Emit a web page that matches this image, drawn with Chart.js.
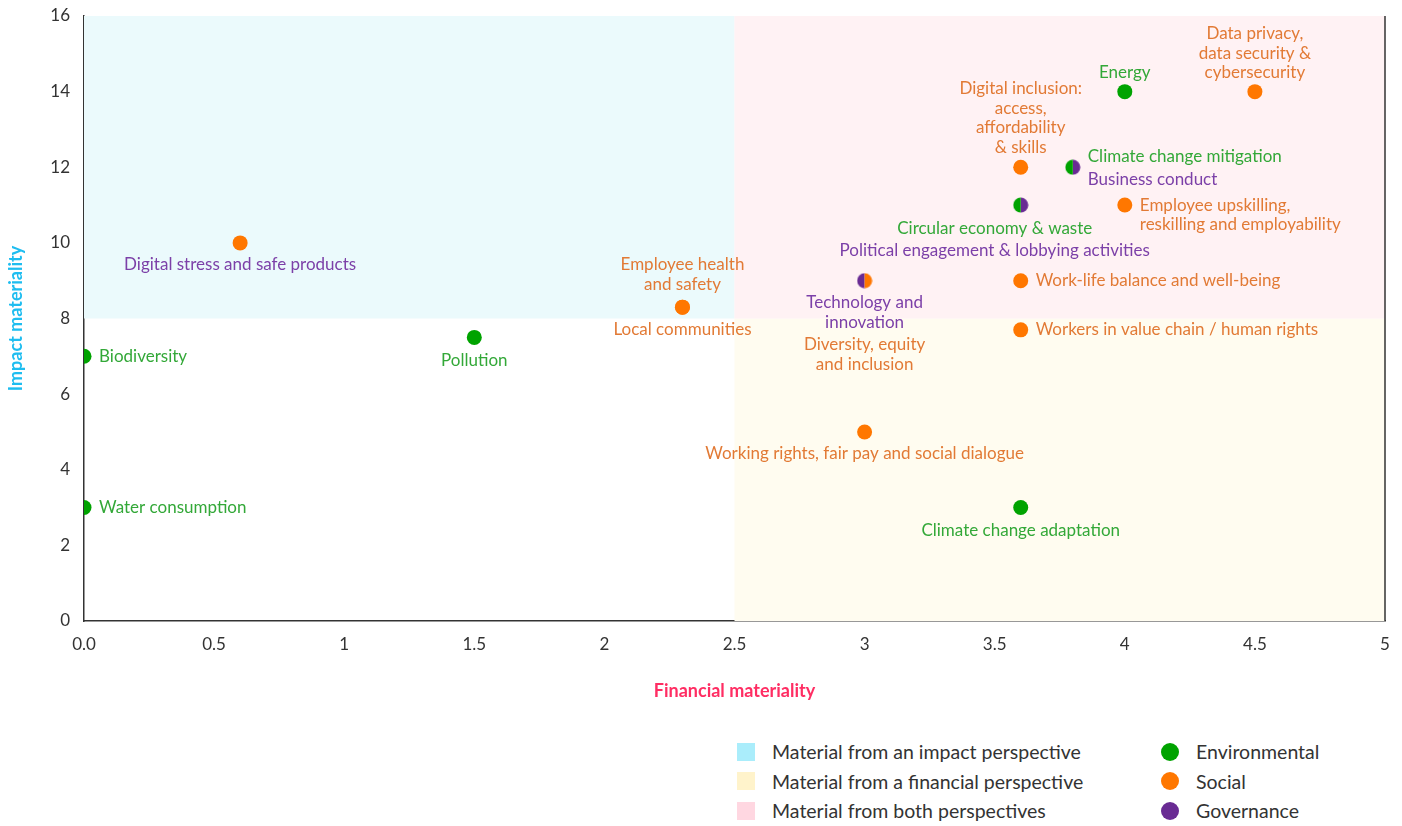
<!DOCTYPE html>
<html lang="en">
<head>
  <meta charset="UTF-8">
  <title>Double materiality matrix</title>
  <script src="https://cdn.jsdelivr.net/npm/chart.js"></script>
  <style>
    body {
      margin: 0;
      background: #fff;
      font-family: Lato, "Open Sans", sans-serif;
    }
    .wrap {
      position: relative;
      width: 1402px;
      height: 826px;
    }
    #matrix {
      position: absolute;
      left: 0;
      top: 0;
    }
    .legend {
      position: absolute;
      top: 737px;
      font-size: 19.5px;
      color: #333;
    }
    .legend div {
      height: 29.5px;
      display: flex;
      align-items: center;
    }
    .legend .sw {
      width: 18px;
      height: 18px;
      margin-right: 17px;
    }
    .legend .dot {
      width: 18px;
      height: 18px;
      border-radius: 50%;
      margin-right: 17px;
    }
  </style>
</head>
<body>
  <div class="wrap">
    <canvas id="matrix" width="1402" height="711"></canvas>
    <div class="legend" id="zoneLegend" style="left:737px"></div>
    <div class="legend" id="pillarLegend" style="left:1161px"></div>
  </div>

  <script>
    // material topics
    const topics = [
      'Biodiversity',
      'Water consumption',
      'Digital stress and safe products',
      'Pollution',
      'Employee health\nand safety',
      'Local communities',
      'Technology and\ninnovation',
      'Diversity, equity\nand inclusion',
      'Working rights, fair pay and social dialogue',
      'Climate change adaptation',
      'Workers in value chain / human rights',
      'Work-life balance and well-being',
      'Circular economy & waste',
      'Political engagement & lobbying activities',
      'Digital inclusion:\naccess,\naffordability\n& skills',
      'Climate change mitigation',
      'Business conduct',
      'Employee upskilling,\nreskilling and employability',
      'Energy',
      'Data privacy,\ndata security &\ncybersecurity'
    ];
    const financialScores = [0, 0, 0.6, 1.5, 2.3, 2.3, 3, 3, 3, 3.6, 3.6, 3.6, 3.6, 3.6, 3.6, 3.8, 3.8, 4, 4, 4.5];
    const impactScores = [7, 3, 10, 7.5, 8.3, 8.3, 9, 9, 5, 3, 7.7, 9, 11, 11, 12, 12, 12, 11, 14, 14];
    const pillars = ['E', 'E', 'S', 'E', 'S', 'S', 'G', 'S', 'S', 'E', 'S', 'S', 'E', 'G', 'S', 'E', 'G', 'S', 'E', 'S'];

    const pillarKeys = ['E', 'S', 'G'];
    const pillarNames = ['Environmental', 'Social', 'Governance'];
    const zoneNames = ['Material from an impact perspective', 'Material from a financial perspective', 'Material from both perspectives'];
    const xTickLabels = ['0.0', '0.5', '1', '1.5', '2', '2.5', '3', '3.5', '4', '4.5', '5'];
    const yTickLabels = ['0', '2', '4', '6', '8', '10', '12', '14', '16'];
    const financialThreshold = 2.5;
    const impactThreshold = 8;

    // styling
    const dotColors = { E: '#00a300', S: '#ff7700', G: '#692b93' };
    const textColors = { E: '#33a838', S: '#e27a35', G: '#7c40a8' };
    const zoneFills = ['#ebfafc', '#fffcf0', '#fff2f4'];
    const zoneSwatches = ['#aaedfb', '#fff3cb', '#ffd7e1'];
    const FONT = 'Lato, "Open Sans", sans-serif';

    // where each label sits relative to its dot
    const labelLayout = {
      'Biodiversity': { pos: 'right' },
      'Water consumption': { pos: 'right' },
      'Digital stress and safe products': { pos: 'below', color: textColors.G },
      'Pollution': { pos: 'below', dy: 1 },
      'Employee health\nand safety': { pos: 'above', dy: -3 },
      'Local communities': { pos: 'below' },
      'Technology and\ninnovation': { pos: 'below' },
      'Diversity, equity\nand inclusion': { pos: 'below', dy: 42 },
      'Working rights, fair pay and social dialogue': { pos: 'below' },
      'Climate change adaptation': { pos: 'below', dy: 1 },
      'Workers in value chain / human rights': { pos: 'right' },
      'Work-life balance and well-being': { pos: 'right' },
      'Circular economy & waste': { pos: 'below', dx: -26, dy: 1 },
      'Political engagement & lobbying activities': { pos: 'below', dx: -26, dy: 23 },
      'Digital inclusion:\naccess,\naffordability\n& skills': { pos: 'above' },
      'Climate change mitigation': { pos: 'right', dy: -11 },
      'Business conduct': { pos: 'right', dy: 12 },
      'Employee upskilling,\nreskilling and employability': { pos: 'right' },
      'Energy': { pos: 'above', dy: 1 },
      'Data privacy,\ndata security &\ncybersecurity': { pos: 'above', dy: 1 }
    };

    // topics sharing a dot with another pillar get half a disc each
    function halfDisc(color, side) {
      const c = document.createElement('canvas');
      c.width = 16;
      c.height = 16;
      const g = c.getContext('2d');
      g.fillStyle = color;
      g.beginPath();
      if (side === 'left') g.arc(8, 8, 7.5, Math.PI / 2, Math.PI * 1.5);
      else g.arc(8, 8, 7.5, -Math.PI / 2, Math.PI / 2);
      g.closePath();
      g.fill();
      return c;
    }

    const sides = topics.map((t, i) => {
      const partner = topics.findIndex((u, j) => j !== i &&
        financialScores[j] === financialScores[i] &&
        impactScores[j] === impactScores[i] &&
        pillars[j] !== pillars[i]);
      if (partner < 0) return null;
      return partner > i ? 'left' : 'right';
    });

    const datasets = pillarKeys.map((key, k) => {
      const idx = topics.map((t, i) => i).filter(i => pillars[i] === key);
      return {
        label: pillarNames[k],
        data: idx.map(i => ({ x: financialScores[i], y: impactScores[i], i: i })),
        backgroundColor: dotColors[key],
        borderWidth: 0,
        pointRadius: 7.5,
        pointHoverRadius: 7.5,
        pointStyle: ctx => {
          const p = ctx.raw;
          if (!p || !sides[p.i]) return 'circle';
          return halfDisc(dotColors[key], sides[p.i]);
        }
      };
    });

    const zonesPlugin = {
      id: 'zones',
      beforeDatasetsDraw(chart) {
        const { ctx, chartArea: a, scales: { x, y } } = chart;
        const fx = x.getPixelForValue(financialThreshold);
        const iy = y.getPixelForValue(impactThreshold);
        ctx.save();
        ctx.fillStyle = zoneFills[0];
        ctx.fillRect(a.left, a.top, fx - a.left, iy - a.top);
        ctx.fillStyle = zoneFills[1];
        ctx.fillRect(fx, iy, a.right - fx, a.bottom - iy);
        ctx.fillStyle = zoneFills[2];
        ctx.fillRect(fx, a.top, a.right - fx, iy - a.top);
        // closing line on the right side
        ctx.strokeStyle = '#333';
        ctx.lineWidth = 1.5;
        ctx.beginPath();
        ctx.moveTo(a.right, a.top);
        ctx.lineTo(a.right, a.bottom);
        ctx.stroke();
        ctx.restore();
      }
    };

    const labelsPlugin = {
      id: 'topicLabels',
      afterDatasetsDraw(chart) {
        const ctx = chart.ctx;
        ctx.save();
        ctx.font = '17px ' + FONT;
        ctx.textBaseline = 'middle';
        chart.data.datasets.forEach((ds, d) => {
          chart.getDatasetMeta(d).data.forEach((pt, n) => {
            const i = ds.data[n].i;
            const name = topics[i];
            const lay = labelLayout[name] || { pos: 'right' };
            const lines = name.split('\n');
            const dx = lay.dx || 0;
            const dy = lay.dy || 0;
            const lh = 19.5;
            ctx.fillStyle = lay.color || textColors[pillars[i]];
            lines.forEach((line, k) => {
              let tx, ty;
              if (lay.pos === 'right') {
                ctx.textAlign = 'left';
                tx = pt.x + 15 + dx;
                ty = pt.y + dy + k * lh;
              } else if (lay.pos === 'above') {
                ctx.textAlign = 'center';
                tx = pt.x + dx;
                ty = pt.y - 20 + dy - (lines.length - 1 - k) * lh;
              } else {
                ctx.textAlign = 'center';
                tx = pt.x + dx;
                ty = pt.y + 22 + dy + k * lh;
              }
              ctx.fillText(line, tx, ty);
            });
          });
        });
        ctx.restore();
      }
    };

    new Chart(document.getElementById('matrix'), {
      type: 'scatter',
      data: { datasets: datasets },
      options: {
        responsive: false,
        animation: false,
        devicePixelRatio: 1,
        layout: { padding: { left: 0, right: 17, top: 16, bottom: 0 } },
        plugins: {
          legend: { display: false },
          tooltip: { enabled: false }
        },
        scales: {
          x: {
            type: 'linear',
            min: 0,
            max: 5,
            afterFit: s => { s.height = 90; s.paddingLeft = 0; s.paddingRight = 0; },
            afterBuildTicks: s => {
              s.ticks = xTickLabels.map(v => ({ value: parseFloat(v) }));
            },
            grid: { display: false, drawTicks: false },
            border: { display: true, color: '#333', width: 1.5 },
            ticks: {
              padding: 13,
              color: '#333',
              font: { family: FONT, size: 17 },
              callback: (v, i) => xTickLabels[i]
            },
            title: {
              display: true,
              text: 'Financial materiality',
              color: '#ff2d63',
              font: { family: FONT, size: 18, weight: 'bold' },
              padding: { top: 0, bottom: 9 }
            }
          },
          y: {
            type: 'linear',
            min: 0,
            max: 16,
            afterFit: s => { s.width = 84; s.paddingTop = 0; s.paddingBottom = 0; },
            afterBuildTicks: s => {
              s.ticks = yTickLabels.map(v => ({ value: parseFloat(v) }));
            },
            grid: { display: false, drawTicks: false },
            border: { display: true, color: '#333', width: 1.5 },
            ticks: {
              padding: 14,
              color: '#333',
              font: { family: FONT, size: 17 },
              callback: (v, i) => yTickLabels[i]
            },
            title: {
              display: true,
              text: 'Impact materiality',
              color: '#1ebdf0',
              font: { family: FONT, size: 18, weight: 'bold' },
              padding: { top: 5, bottom: 0 }
            }
          }
        }
      },
      plugins: [zonesPlugin, labelsPlugin]
    });

    // legend under the chart
    const zoneLegend = document.getElementById('zoneLegend');
    zoneNames.forEach((name, k) => {
      const row = document.createElement('div');
      row.innerHTML = '<span class="sw" style="background:' + zoneSwatches[k] + '"></span>' + name;
      zoneLegend.appendChild(row);
    });
    const pillarLegend = document.getElementById('pillarLegend');
    pillarNames.forEach((name, k) => {
      const row = document.createElement('div');
      row.innerHTML = '<span class="dot" style="background:' + dotColors[pillarKeys[k]] + '"></span>' + name;
      pillarLegend.appendChild(row);
    });
  </script>
</body>
</html>
